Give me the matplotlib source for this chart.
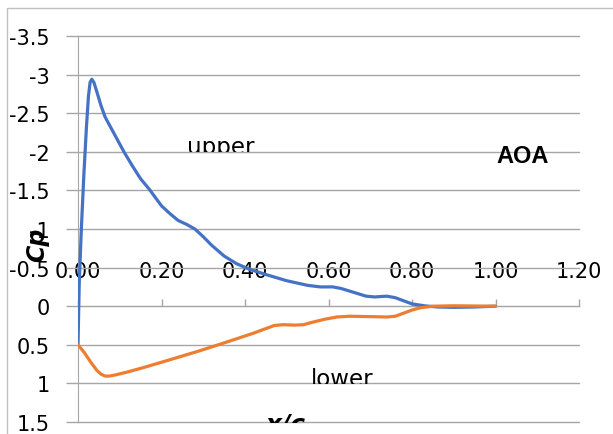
import matplotlib
matplotlib.use('Agg')
import matplotlib.pyplot as plt
from matplotlib.patches import Rectangle
from matplotlib.transforms import Bbox, TransformedBbox

# ---- data ----
x_upper = [0.0, 0.003, 0.008, 0.014, 0.02, 0.025, 0.029, 0.033, 0.038, 0.045, 0.055,
           0.065, 0.075, 0.09, 0.11, 0.13, 0.15, 0.17, 0.2, 0.22, 0.24, 0.26, 0.28,
           0.30, 0.32, 0.35, 0.38, 0.41, 0.45, 0.50, 0.55, 0.58, 0.61, 0.63, 0.66,
           0.69, 0.71, 0.74, 0.76, 0.78, 0.80, 0.83, 0.86, 0.90, 0.95, 1.0]
cp_upper = [0.5, -0.3, -1.0, -1.7, -2.3, -2.72, -2.9, -2.94, -2.9, -2.78, -2.6,
            -2.45, -2.35, -2.2, -2.0, -1.82, -1.65, -1.52, -1.3, -1.2, -1.11, -1.06, -1.0,
            -0.9, -0.79, -0.65, -0.55, -0.48, -0.41, -0.33, -0.27, -0.25, -0.25, -0.23, -0.18,
            -0.13, -0.12, -0.13, -0.11, -0.07, -0.03, -0.005, 0.01, 0.015, 0.01, 0.0]

x_lower = [0.0, 0.015, 0.03, 0.045, 0.055, 0.065, 0.075, 0.09, 0.12, 0.16, 0.21,
           0.29, 0.37, 0.42, 0.45, 0.47, 0.49, 0.52, 0.54, 0.56, 0.59, 0.62, 0.65,
           0.70, 0.74, 0.76, 0.78, 0.80, 0.82, 0.85, 0.90, 1.0]
cp_lower = [0.5, 0.6, 0.72, 0.83, 0.88, 0.905, 0.905, 0.89, 0.85, 0.79, 0.71,
            0.58, 0.44, 0.35, 0.29, 0.25, 0.24, 0.245, 0.24, 0.21, 0.17, 0.14, 0.13,
            0.135, 0.14, 0.13, 0.09, 0.05, 0.02, 0.0, -0.005, 0.0]

x_ticks = [0.0, 0.2, 0.4, 0.6, 0.8, 1.0, 1.2]
x_tick_labels = ['0.00', '0.20', '0.40', '0.60', '0.80', '1.00', '1.20']
y_ticks = [-3.5, -3.0, -2.5, -2.0, -1.5, -1.0, -0.5, 0.0, 0.5, 1.0, 1.5]
y_tick_labels = ['-3.5', '-3', '-2.5', '-2', '-1.5', '-1', '-0.5', '0', '0.5', '1', '1.5']

# ---- figure ----
W, H = 613, 435
fig = plt.figure(figsize=(W / 100, H / 100), dpi=100)
L, R, T, B = 78, 579, 37, 423
ax = fig.add_axes([L / W, 1 - B / H, (R - L) / W, (B - T) / H])
ax.set_xlim(0, 1.2)
ax.set_ylim(1.5, -3.5)

grid_c = '#a6a6a6'
ax.set_yticks(y_ticks, y_tick_labels)
ax.tick_params(axis='y', length=9, width=1, color=grid_c, pad=11.5, labelsize=15)
ax.yaxis.grid(True, color=grid_c, lw=1)
for gl in ax.get_ygridlines():
    gl.set_clip_on(False)
ax.set_axisbelow(True)

ax.xaxis.tick_top()
ax.set_xticks(x_ticks, x_tick_labels)
ax.tick_params(axis='x', length=5, width=1, color=grid_c, pad=13, labelsize=15,
               direction='out')
for s in ['bottom', 'right']:
    ax.spines[s].set_visible(False)
ax.spines['top'].set_position(('data', 0))
ax.spines['top'].set_color(grid_c)
ax.spines['left'].set_color(grid_c)

ax.plot(x_upper, cp_upper, color='#4472C4', lw=2.3, solid_joinstyle='round',
        solid_capstyle='round', zorder=3)
ax.plot(x_lower, cp_lower, color='#ED7D31', lw=2.3, solid_joinstyle='round',
        solid_capstyle='round', zorder=4)


def clip_below(y_px):
    return TransformedBbox(Bbox.from_extents(0, 1 - y_px / H, 1, 1), fig.transFigure)


t = fig.text(187 / W, 1 - 154 / H, 'upper', fontsize=16.5, ha='left', va='baseline')
t.set_clip_box(clip_below(153))
t.set_clip_on(True)

t = fig.text(311 / W, 1 - 386 / H, 'lower', fontsize=16.5, ha='left', va='baseline')
t.set_clip_box(clip_below(385))
t.set_clip_on(True)

fig.text(523 / W, 1 - 157 / H, 'AOA', fontsize=17, fontweight='bold',
         family='Liberation Sans', ha='center', va='center')

fig.text(37 / W, 1 - 245 / H, 'Cp', rotation=90, fontsize=17, fontweight='bold',
         fontstyle='italic', ha='center', va='center')

t = fig.text(285 / W, 1 - 432 / H, 'x/c', fontsize=18, fontweight='bold',
             fontstyle='italic', ha='center', va='baseline')
t.set_clip_box(clip_below(424))
t.set_clip_on(True)

fig.add_artist(Rectangle((7 / W, -0.5), 2, 0.5 + 1 - 9 / H, transform=fig.transFigure,
                         fill=False, ec='#c0c0c0', lw=1))

fig.savefig('out.png', dpi=100)
